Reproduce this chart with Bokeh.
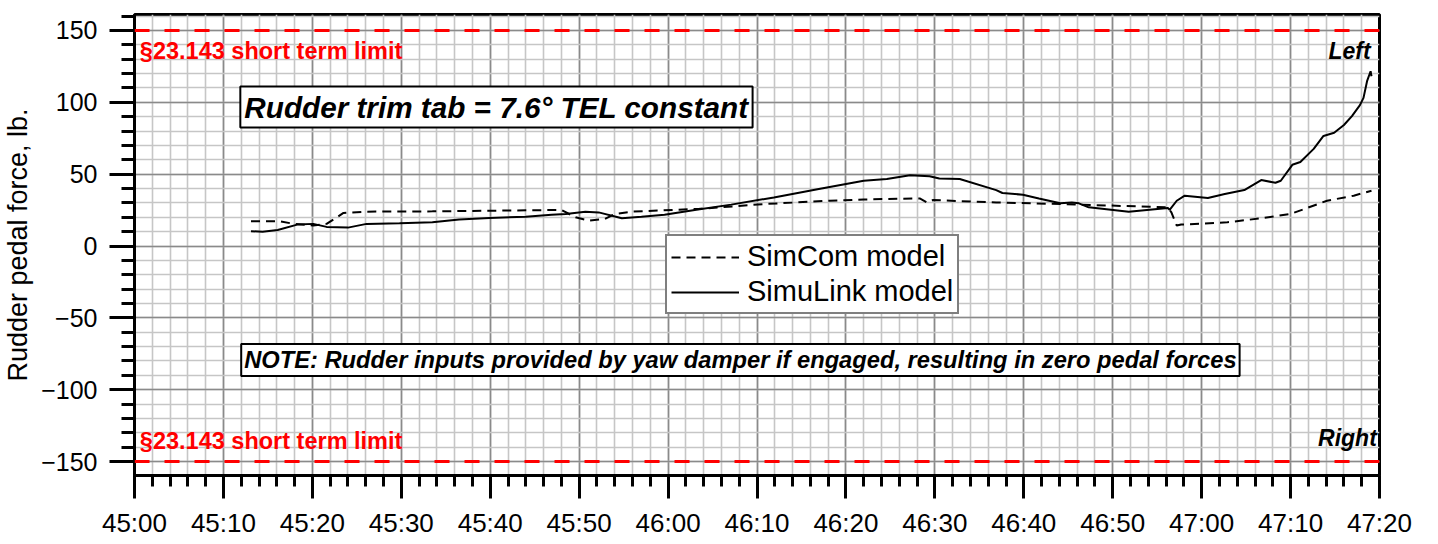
from bokeh.plotting import figure
from bokeh.models import Range1d, FixedTicker, Span, Label, Legend, LegendItem
from bokeh.embed import file_html
from bokeh.resources import INLINE

# ---- data (time in seconds, 2700 s = 45:00) ----
simulink_t = [2713.1, 2714.4, 2716.1, 2718.3, 2720.1, 2721.6, 2724.0, 2726.1, 2729.8, 2733.5,
              2736.5, 2739.9, 2744.0, 2746.9, 2748.5, 2750.7, 2752.2, 2754.8, 2757.0, 2759.6,
              2763.0, 2767.1, 2771.9, 2777.1, 2782.0, 2784.6, 2787.2, 2789.4, 2790.5, 2792.8,
              2796.9, 2797.6, 2799.9, 2801.7, 2804.1, 2805.4, 2806.2, 2807.3, 2811.8, 2816.2,
              2816.4, 2817.2, 2818.1, 2820.7, 2822.6, 2824.8, 2826.7, 2828.3, 2828.9, 2830.2,
              2831.1, 2832.6, 2833.7, 2834.9, 2836.0, 2836.9, 2837.8, 2838.2, 2838.6, 2839.0,
              2839.1]
simulink_f = [10.3, 10.0, 11.2, 14.9, 15.4, 13.3, 12.8, 15.4, 15.8, 16.5,
              18.4, 19.5, 20.4, 21.8, 22.3, 23.9, 23.4, 19.3, 20.4, 21.8,
              25.1, 28.8, 33.8, 39.8, 45.4, 46.6, 49.3, 48.6, 47.0, 46.6,
              38.9, 36.9, 35.7, 33.1, 29.7, 30.3, 29.7, 26.9, 23.9, 26.5,
              25.1, 31.5, 35.0, 33.4, 36.2, 38.9, 45.9, 44.0, 45.4, 56.5,
              58.5, 67.6, 76.6, 78.8, 84.2, 90.4, 98.0, 103.1, 114.7, 121.6,
              118.1]

simcom_t = [2713.1, 2716.4, 2717.9, 2720.1, 2721.6, 2723.5, 2726.1, 2733.5, 2741.0, 2748.0,
            2749.6, 2751.1, 2752.9, 2754.0, 2755.9, 2763.4, 2770.8, 2778.2, 2782.0, 2788.3,
            2789.1, 2789.8, 2796.9, 2804.3, 2816.2, 2816.6, 2817.2, 2817.7, 2822.9, 2826.7,
            2830.0, 2834.1, 2837.1, 2839.1]
simcom_f = [17.2, 17.2, 15.4, 14.2, 15.4, 23.0, 23.9, 24.1, 24.6, 25.1,
            20.0, 17.7, 18.8, 22.3, 23.9, 25.8, 29.2, 31.5, 32.4, 33.1,
            30.3, 32.0, 30.3, 29.2, 26.9, 23.4, 14.2, 14.9, 16.5, 19.3,
            22.3, 31.5, 35.0, 38.5]

x_ticks = [2700, 2710, 2720, 2730, 2740, 2750, 2760, 2770, 2780, 2790, 2800, 2810, 2820, 2830, 2840]
x_tick_labels = ["45:00", "45:10", "45:20", "45:30", "45:40", "45:50", "46:00", "46:10",
                 "46:20", "46:30", "46:40", "46:50", "47:00", "47:10", "47:20"]
x_minor = list(range(2700, 2841, 2))
y_ticks = [-150, -100, -50, 0, 50, 100, 150]
y_minor = list(range(-160, 161, 10))
limits = [150, -150]

FONT = "Liberation Sans"

p = figure(width=1422, height=540, output_backend="svg", toolbar_location=None,
           x_range=Range1d(2700, 2840), y_range=Range1d(-159.7, 161.1),
           min_border_left=125, min_border_right=43, min_border_top=14, min_border_bottom=63)
p.background_fill_color = "white"
p.border_fill_color = "white"
p.outline_line_color = "black"
p.outline_line_width = 3

xt = FixedTicker(ticks=x_ticks, minor_ticks=x_minor)
yt = FixedTicker(ticks=y_ticks, minor_ticks=y_minor)
p.xaxis.ticker = xt
p.yaxis.ticker = yt
p.xgrid.ticker = xt
p.ygrid.ticker = yt
p.xaxis.major_label_overrides = {t: l for t, l in zip(x_ticks, x_tick_labels)}

for g in (p.xgrid, p.ygrid):
    g.grid_line_color = "#8a8a8a"
    g.grid_line_width = 1.6
    g.minor_grid_line_color = "#c6c6c6"
    g.minor_grid_line_width = 1.6

for ax in (p.xaxis, p.yaxis):
    ax.axis_line_width = 3
    ax.axis_line_color = "black"
    ax.major_tick_line_width = 3
    ax.minor_tick_line_width = 3
    ax.major_tick_line_color = "black"
    ax.minor_tick_line_color = "black"
    ax.major_tick_in = 0
    ax.minor_tick_in = 0
    ax.major_label_text_font = FONT
    ax.major_label_text_color = "black"

p.xaxis.major_label_text_font_size = "26px"
p.yaxis.major_label_text_font_size = "25px"
p.xaxis.major_tick_out = 23
p.xaxis.minor_tick_out = 11
p.xaxis.major_label_standoff = 9
p.yaxis.major_tick_out = 25
p.yaxis.minor_tick_out = 13
p.yaxis.major_label_standoff = 12
p.yaxis.axis_label = "Rudder pedal force, lb."
p.yaxis.axis_label_text_font = FONT
p.yaxis.axis_label_text_font_size = "27px"
p.yaxis.axis_label_text_font_style = "normal"
p.yaxis.axis_label_text_color = "black"
p.yaxis.axis_label_standoff = 5

for v in limits:
    p.add_layout(Span(location=v, dimension="width", line_color="#ff0000",
                      line_width=3, line_dash="15 15"))

r_com = p.line(simcom_t, simcom_f, line_color="black", line_width=2, line_dash="9 6")
r_link = p.line(simulink_t, simulink_f, line_color="black", line_width=2)

legend = Legend(items=[LegendItem(label="SimCom model", renderers=[r_com]),
                       LegendItem(label="SimuLink model", renderers=[r_link])],
                location=(531, 161), orientation="vertical")
legend.label_text_font = FONT
legend.label_text_font_size = "29px"
legend.label_text_color = "black"
legend.glyph_width = 68
legend.glyph_height = 32
legend.label_height = 32
legend.label_standoff = 8
legend.padding = 4
legend.spacing = 2
legend.margin = 0
legend.border_line_color = "black"
legend.border_line_width = 2
legend.background_fill_color = "white"
legend.background_fill_alpha = 1
p.add_layout(legend, "center")

# red limit texts
for yv in (135.8, -135.4):
    p.add_layout(Label(x=2700.6, y=yv, text="\u00a723.143 short term limit",
                       text_font=FONT, text_font_size="23.5px", text_font_style="bold",
                       text_color="#ff0000", text_align="left", text_baseline="middle"))

p.add_layout(Label(x=2839.0, y=135.6, text="Left", text_font=FONT, text_font_size="23px",
                   text_font_style="bold italic", text_color="black",
                   text_align="right", text_baseline="middle"))
p.add_layout(Label(x=2839.7, y=-133.8, text="Right", text_font=FONT, text_font_size="23px",
                   text_font_style="bold italic", text_color="black",
                   text_align="right", text_baseline="middle"))

p.add_layout(Label(x=2711.9, y=96.7, text="Rudder trim tab = 7.6\u00b0 TEL constant",
                   text_font=FONT, text_font_size="29.7px", text_font_style="bold italic",
                   text_color="black", text_align="left", text_baseline="middle",
                   padding=4, border_line_color="black", border_line_width=2,
                   background_fill_color="white"))

p.add_layout(Label(x=2712.0, y=-79.3,
                   text="NOTE: Rudder inputs provided by yaw damper if engaged, resulting in zero pedal forces",
                   text_font=FONT, text_font_size="23.7px", text_font_style="bold italic",
                   text_color="black", text_align="left", text_baseline="middle",
                   padding=3, border_line_color="black", border_line_width=2,
                   background_fill_color="white"))

open("out.html", "w").write(file_html(p, INLINE))
